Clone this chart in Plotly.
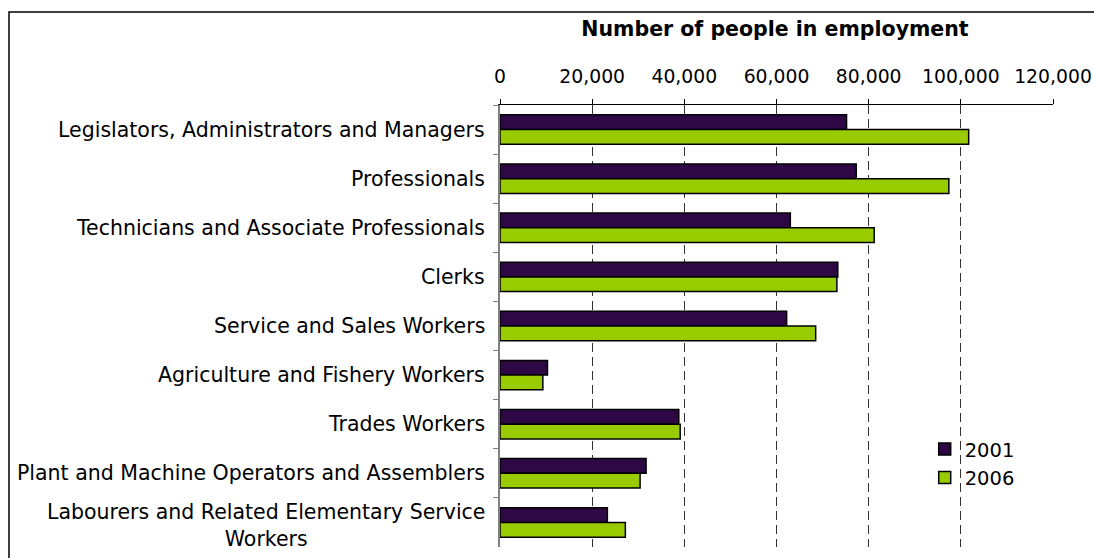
import plotly.graph_objects as go

# Occupational groups, top to bottom
categories = [
    "Legislators, Administrators and Managers",
    "Professionals",
    "Technicians and Associate Professionals",
    "Clerks",
    "Service and Sales Workers",
    "Agriculture and Fishery Workers",
    "Trades Workers",
    "Plant and Machine Operators and Assemblers",
    "Labourers and Related Elementary Service<br>Workers",
]

# Number of people in employment by census year
employed_2001 = [75200, 77300, 63000, 73300, 62200, 10300, 38800, 31700, 23300]
employed_2006 = [101700, 97400, 81200, 73100, 68500, 9300, 39100, 30400, 27200]

tick_values = [0, 20000, 40000, 60000, 80000, 100000, 120000]
tick_labels = ["0", "20,000", "40,000", "60,000", "80,000", "100,000", "120,000"]

FONT = "DejaVu Sans"
LABEL_SIZE = 20.5
TICK_SIZE = 18.8
LEGEND_SIZE = 19.5

fig = go.Figure()
fig.add_trace(go.Bar(
    y=categories, x=employed_2001, name="2001", orientation="h",
    marker=dict(color="#2E0845", line=dict(color="#000000", width=1.5)),
))
fig.add_trace(go.Bar(
    y=categories, x=employed_2006, name="2006", orientation="h",
    marker=dict(color="#99CC00", line=dict(color="#000000", width=1.5)),
))

# Category labels drawn as annotations so the wrapped label is centred
for cat in categories:
    wrapped = "<br>" in cat
    fig.add_annotation(
        x=0, xref="paper", y=cat, yref="y", text=cat, showarrow=False,
        xanchor="right", yanchor="middle", xshift=-13,
        yshift=-3 if wrapped else 0, align="center",
        font=dict(family=FONT, size=LABEL_SIZE, color="#000000"),
    )

# Outer frame of the chart
fig.add_shape(
    type="rect", xref="paper", yref="paper",
    x0=(9 - 500) / 553, x1=(1200 - 500) / 553,
    y0=-0.2, y1=1 + (105 - 12) / 442,
    line=dict(color="#000000", width=1.5), fillcolor="rgba(0,0,0,0)",
)

fig.update_layout(
    template="none",
    width=1094, height=558,
    margin=dict(l=500, r=41, t=105, b=11, autoexpand=False),
    paper_bgcolor="#FFFFFF", plot_bgcolor="#FFFFFF",
    barmode="group", bargap=0.4, bargroupgap=0,
    font=dict(family=FONT, size=TICK_SIZE, color="#000000"),
    title=dict(
        text="<b>Number of people in employment</b>",
        x=775 / 1094, xanchor="center", xref="container",
        y=1 - 29 / 558, yanchor="middle",
        font=dict(family="DejaVu Sans", size=20.5, color="#000000"),
    ),
    legend=dict(
        x=0.768, y=0.265, xanchor="left", yanchor="top",
        font=dict(family=FONT, size=LEGEND_SIZE),
        bgcolor="rgba(255,255,255,0)", traceorder="normal",
        itemwidth=30, tracegroupgap=0,
    ),
    showlegend=True,
)

fig.update_xaxes(
    side="top", range=[0, 120000], automargin=False,
    tickvals=tick_values, ticktext=tick_labels,
    showline=True, linecolor="#000000", linewidth=1,
    ticks="outside", ticklen=5, tickcolor="#000000",
    showgrid=True, gridcolor="#333333", gridwidth=1, griddash="9px,5px",
    zeroline=False, ticklabelstandoff=8,
    tickfont=dict(family=FONT, size=TICK_SIZE),
)
fig.update_yaxes(
    autorange="reversed", showticklabels=False, automargin=False,
    showline=True, linecolor="#808080", linewidth=1.5,
    ticks="outside", ticklen=5, tickcolor="#808080", tickson="boundaries",
    showgrid=False, zeroline=False,
)

fig.write_html("out.html")
